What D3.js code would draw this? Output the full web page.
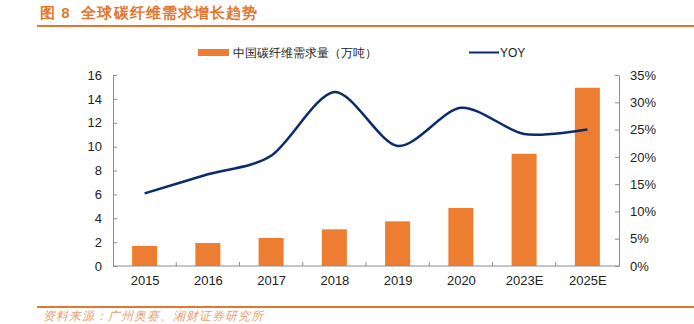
<!DOCTYPE html>
<html><head><meta charset="utf-8">
<script src="https://cdn.jsdelivr.net/npm/d3@7"></script>
<style>
body{margin:0;background:#fff;}
svg{display:block;}
text{font-family:"Liberation Sans",Arial,sans-serif;}
</style></head>
<body><svg id="c" width="694" height="324"></svg>
<script>
const categories = ["2015","2016","2017","2018","2019","2020","2023E","2025E"];
const demand = [1.68,1.93,2.35,3.07,3.74,4.86,9.4,14.93];
const yoy = [13.3,16.8,20.2,31.9,22.0,29.0,24.2,25.0];
const leftTicks = [0,2,4,6,8,10,12,14,16];
const rightTicks = [0,5,10,15,20,25,30,35];
const titleText = "图 8  全球碳纤维需求增长趋势";
const sourceText = "资料来源：广州奥赛、湘财证券研究所";
const seriesNames = ["中国碳纤维需求量（万吨）","YOY"];

const svg = d3.select("#c");
const orange = "#ED7D31", navy = "#0B2B6B", titleColor = "#E2782F";
const L = 113, R = 619, T = 75, B = 266;

// title
svg.append("text").attr("x",40).attr("y",18).text(titleText)
  .style("white-space","pre")
  .attr("font-family","'Noto Sans CJK SC',sans-serif").attr("font-weight","bold")
  .attr("font-size",15).attr("letter-spacing",1.1).attr("fill",titleColor);
svg.append("line").attr("x1",37).attr("x2",694).attr("y1",26).attr("y2",26)
  .attr("stroke",titleColor).attr("stroke-width",2);
svg.append("line").attr("x1",37).attr("x2",694).attr("y1",307).attr("y2",307)
  .attr("stroke",titleColor).attr("stroke-width",2);
svg.append("text").attr("x",43).attr("y",320).text(sourceText)
  .attr("font-family","'Noto Sans CJK SC',sans-serif").attr("font-style","italic")
  .attr("font-size",12).attr("letter-spacing",1).attr("fill","#E8A070");

const xs = d3.scalePoint().domain(categories).range([L,R]).padding(0.5);
const y = d3.scaleLinear().domain([0,16]).range([B,T]);
const y2 = d3.scaleLinear().domain([0,35]).range([B,T]);

// bars
svg.append("g").selectAll("rect").data(demand).join("rect")
  .attr("x",(d,i)=>xs(categories[i]) - 12.5).attr("width",25)
  .attr("y",d=>y(d)).attr("height",d=>B-y(d)).attr("fill",orange);

// axes
const axisColor = "#8c8c8c";
const gl = svg.append("g").attr("transform",`translate(${L},0)`)
  .call(d3.axisLeft(y).tickValues(leftTicks).tickSizeInner(-4).tickSizeOuter(0).tickPadding(11));
const gr = svg.append("g").attr("transform",`translate(${R},0)`)
  .call(d3.axisRight(y2).tickValues(rightTicks).tickFormat(d=>d+"%").tickSizeInner(-4).tickSizeOuter(0).tickPadding(11));
const step = (R-L)/categories.length;
const gx = svg.append("g").attr("transform",`translate(0,${B})`)
  .call(d3.axisBottom(xs).tickSize(0).tickPadding(10));
gx.append("g").selectAll("line").data(d3.range(1,categories.length)).join("line")
  .attr("x1",i=>L+i*step).attr("x2",i=>L+i*step).attr("y1",0).attr("y2",-4).attr("stroke",axisColor);
[gl,gr,gx].forEach(g=>{
  g.selectAll("path.domain").attr("stroke",axisColor);
  g.selectAll(".tick line").attr("stroke",axisColor);
  g.selectAll("text").attr("font-family","'Liberation Sans',Arial,sans-serif").attr("font-size",13).attr("fill","#222");
});
gx.select("path.domain").attr("d",`M${L},0H${R}`);

// line
const line = d3.line().x((d,i)=>xs(categories[i])).y(d=>y2(d)).curve(d3.curveCardinal.tension(0.15));
svg.append("path").datum(yoy).attr("d",line).attr("fill","none")
  .attr("stroke",navy).attr("stroke-width",2.5);

// legend
const lg = svg.append("g");
lg.append("rect").attr("x",198).attr("y",49).attr("width",31).attr("height",7).attr("fill",orange);
lg.append("text").attr("x",233).attr("y",57).text(seriesNames[0])
  .attr("font-family","'Noto Sans CJK SC',sans-serif").attr("font-size",12).attr("fill","#222");
lg.append("line").attr("x1",469).attr("x2",499).attr("y1",52.5).attr("y2",52.5).attr("stroke",navy).attr("stroke-width",2);
lg.append("text").attr("x",500).attr("y",57).text(seriesNames[1])
  .attr("font-family","'Liberation Sans',Arial,sans-serif").attr("font-size",12).attr("fill","#222");
</script></body></html>
